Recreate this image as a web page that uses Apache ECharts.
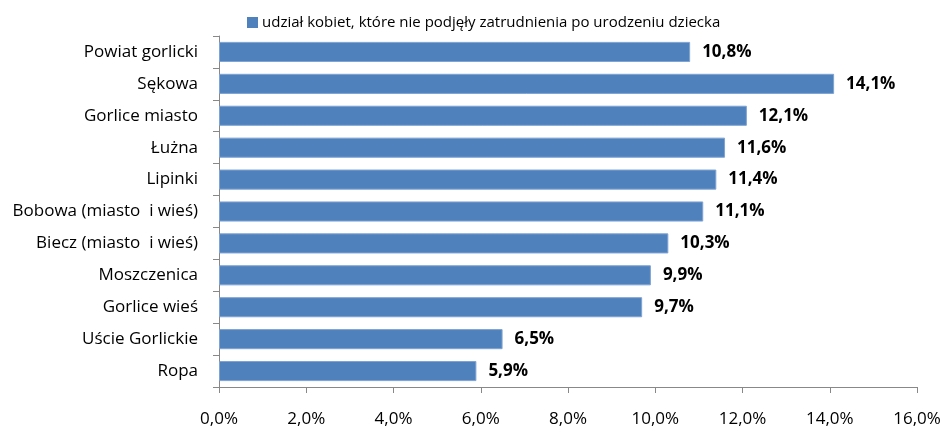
<!DOCTYPE html>
<html>
<head>
<meta charset="utf-8">
<script src="https://cdn.jsdelivr.net/npm/echarts@6/dist/echarts.min.js"></script>
<style>
  html, body { margin: 0; padding: 0; background: #fff; }
  #chart { width: 945px; height: 430px; }
</style>
</head>
<body>
<div id="chart"></div>
<script>
const categories = [
  'Powiat gorlicki',
  'Sękowa',
  'Gorlice miasto',
  'Łużna',
  'Lipinki',
  'Bobowa (miasto  i wieś)',
  'Biecz (miasto  i wieś)',
  'Moszczenica',
  'Gorlice wieś',
  'Uście Gorlickie',
  'Ropa'
];
const values = [10.8, 14.1, 12.1, 11.6, 11.4, 11.1, 10.3, 9.9, 9.7, 6.5, 5.9];
const seriesName = 'udział kobiet, które nie podjęły zatrudnienia po urodzeniu dziecka';

const fmt = v => v.toFixed(1).replace('.', ',') + '%';
const font = '"Open Sans", "Liberation Sans", sans-serif';

const chart = echarts.init(document.getElementById('chart'));
chart.setOption({
  animation: false,
  textStyle: { fontFamily: font },
  legend: {
    top: 10,
    left: 242,
    itemWidth: 11,
    itemHeight: 11,
    itemGap: 4,
    icon: 'rect',
    itemStyle: { borderWidth: 0 },
    textStyle: { fontSize: 15, color: '#000', fontFamily: font, padding: [0, 0, 0, -1] },
    data: [seriesName]
  },
  grid: { left: 219, right: 28, top: 36, bottom: 43 },
  xAxis: {
    type: 'value',
    min: 0,
    max: 16,
    interval: 2,
    axisLine: { show: true, lineStyle: { color: '#888', width: 1 } },
    axisTick: { show: true, length: 6, lineStyle: { color: '#888' } },
    splitLine: { show: false },
    axisLabel: { margin: 24, fontSize: 17, color: '#000', formatter: v => fmt(v) }
  },
  yAxis: {
    type: 'category',
    data: categories,
    inverse: true,
    axisLine: { show: true, lineStyle: { color: '#888', width: 1 } },
    axisTick: { show: true, length: 6, lineStyle: { color: '#888' } },
    axisLabel: { margin: 21, fontSize: 17, color: '#000' }
  },
  series: [{
    name: seriesName,
    type: 'bar',
    data: values,
    barCategoryGap: '37%',
    itemStyle: { color: '#4F81BD', borderColor: '#7FA3D3', borderWidth: 1 },
    label: {
      show: true,
      position: 'right',
      distance: 12,
      fontSize: 17,
      fontWeight: 'bold',
      color: '#000',
      formatter: p => fmt(p.value)
    }
  }]
});
</script>
</body>
</html>
